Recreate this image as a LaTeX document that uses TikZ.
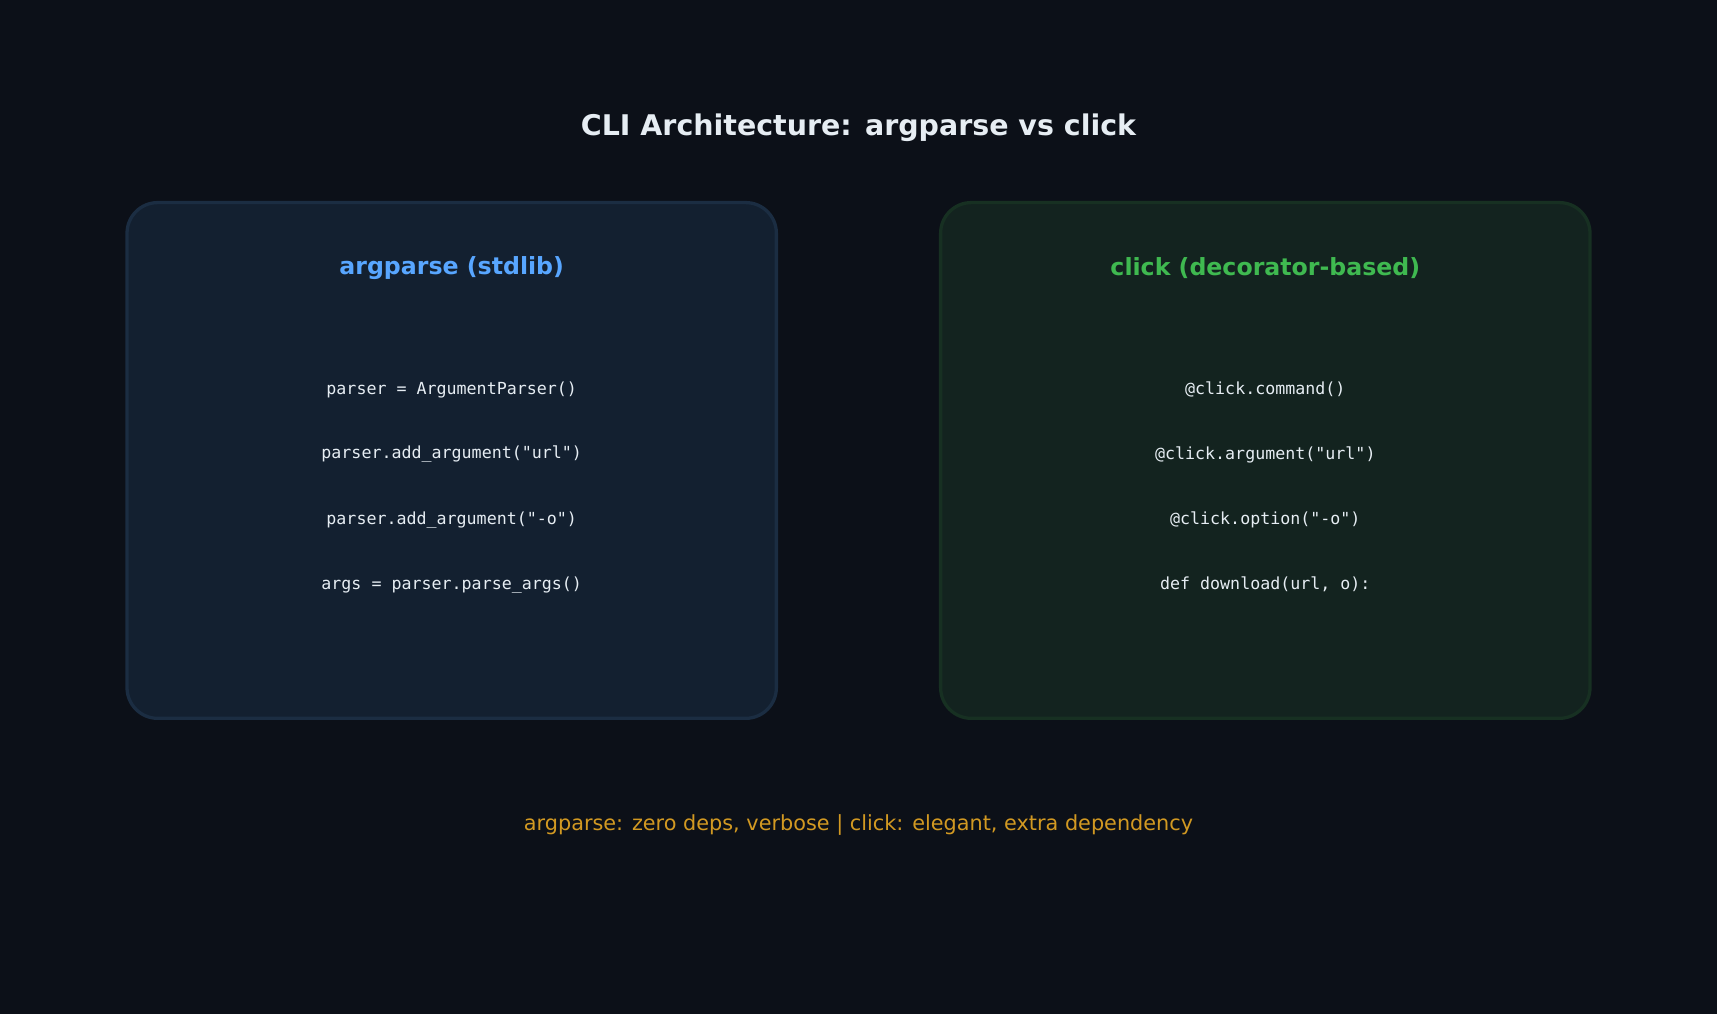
\documentclass[tikz,border=0pt]{standalone}
\usepackage{fontspec}
\setmainfont{DejaVu Sans}
\setmonofont{DejaVu Sans Mono}
\definecolor{bg}{HTML}{0C1018}
\definecolor{lfill}{HTML}{132030}
\definecolor{ldraw}{HTML}{1B2D42}
\definecolor{rfill}{HTML}{13231F}
\definecolor{rdraw}{HTML}{173022}
\definecolor{txt}{HTML}{E6EDF3}
\definecolor{blu}{HTML}{58A6FF}
\definecolor{grn}{HTML}{3FB950}
\definecolor{gold}{HTML}{D29922}
\begin{document}
\begin{tikzpicture}[x=0.5pt,y=-0.5pt,
  panel/.style={rounded corners=14pt,line width=1.5pt},
  code/.style={font=\ttfamily\fontsize{7.6}{9}\selectfont,text=txt},
  head/.style={font=\bfseries\fontsize{10.8}{13}\selectfont}]
\fill[bg] (0,0) rectangle (1568,926);
\useasboundingbox (0,0) rectangle (1568,926);
\node[font=\bfseries\fontsize{13}{16}\selectfont,text=txt] (title) at (784,117) {CLI Architecture: argparse vs click};
\draw[panel,fill=lfill,draw=ldraw] (116,185) rectangle (709,656);
\draw[panel,fill=rfill,draw=rdraw] (859,185) rectangle (1452,656);
\node[head,text=blu] (lh) at (412.5,245) {argparse (stdlib)};
\node[head,text=grn] (rh) at (1155.5,245) {click (decorator-based)};
\node[code] (l1) at (412.5,356) {parser = ArgumentParser()};
\node[code] (l2) at (412.5,415) {parser.add\_argument("url")};
\node[code] (l3) at (412.5,475) {parser.add\_argument("-o")};
\node[code] (l4) at (412.5,534) {args = parser.parse\_args()};
\node[code] (r1) at (1155.5,356) {@click.command()};
\node[code] (r2) at (1155.5,415) {@click.argument("url")};
\node[code] (r3) at (1155.5,475) {@click.option("-o")};
\node[code] (r4) at (1155.5,534) {def download(url, o):};
\node[font=\fontsize{9.5}{12}\selectfont,text=gold] (foot) at (784,753) {argparse: zero deps, verbose | click: elegant, extra dependency};
\end{tikzpicture}
\end{document}
